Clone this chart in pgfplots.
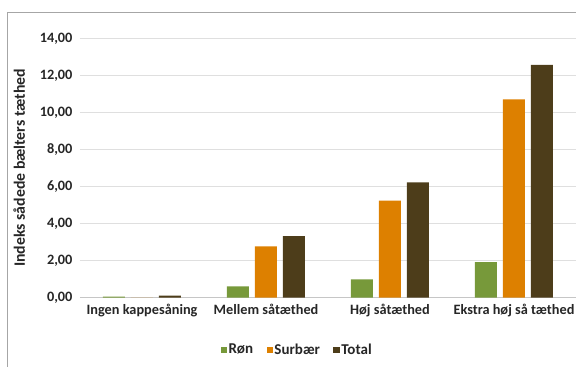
\documentclass[border=0pt]{standalone}
\usepackage{pgfplots}
\pgfplotsset{compat=1.18}
\usepackage{fontspec}
\setmainfont{Carlito}
\definecolor{ron}{HTML}{77993A}
\definecolor{surb}{HTML}{DD8000}
\definecolor{tot}{HTML}{4D3D1A}
\definecolor{txt}{HTML}{262626}
\begin{document}
\begin{tikzpicture}
\begin{axis}[
  scale only axis, width=496pt, height=259.4pt,
  ybar=6pt, bar width=22pt,
  xmin=-0.5, xmax=3.5, ymin=0, ymax=14,
  xtick=data,
  xticklabels={Ingen kappesåning, Mellem såtæthed, Høj såtæthed, Ekstra høj så tæthed},
  ytick={0,2,...,14},
  yticklabel={\pgfmathprintnumber[fixed,fixed zerofill,precision=2,use comma]{\tick}},
  /pgf/number format/assume math mode=true,
  ticklabel style={font=\fontsize{14.3}{16}\selectfont\bfseries, text=txt},
  xticklabel style={yshift=-3pt},
  yticklabel style={xshift=-4pt},
  ylabel={Indeks sådede bælters tæthed},
  ylabel style={font=\fontsize{15.8}{17}\selectfont\bfseries, text=txt, yshift=8pt},
  axis lines*=left,
  y axis line style={draw=none},
  x axis line style={draw=gray!45, line width=0.8pt, -},
  major tick length=0pt,
  ymajorgrids, grid style={draw=gray!25, line width=0.8pt},
  clip=false,
  legend columns=3,
  legend style={draw=none, at={(211pt,-52pt)}, anchor=center,
    font=\fontsize{15}{17}\selectfont\bfseries, text=txt,
    /tikz/column sep=0pt,
    /tikz/every node/.append style={inner xsep=1.5pt}},
  legend image code/.code={\path (-12pt,0pt); \fill[#1] (0pt,-3.2pt) rectangle (6.4pt,3.2pt);},
]
\addplot[fill=ron, draw=none] coordinates {(0,0.06) (1,0.61) (2,0.99) (3,1.92)};
\addplot[fill=surb, draw=none] coordinates {(0,0.0) (1,2.77) (2,5.24) (3,10.71)};
\addplot[fill=tot, draw=none] coordinates {(0,0.11) (1,3.33) (2,6.23) (3,12.56)};
\legend{Røn, Surbær, Total}
\coordinate (O) at (axis description cs:0,0);
\end{axis}
\pgfresetboundingbox
\useasboundingbox ([shift={(-80pt,-69.3pt)}]O) rectangle ([shift={(496pt,297.7pt)}]O);
\draw[gray!70, line width=0.8pt] ([shift={(-73pt,-69.3pt)}]O) -- ([shift={(-73pt,285.7pt)}]O) -- ([shift={(496pt,285.7pt)}]O);
\end{tikzpicture}
\end{document}
